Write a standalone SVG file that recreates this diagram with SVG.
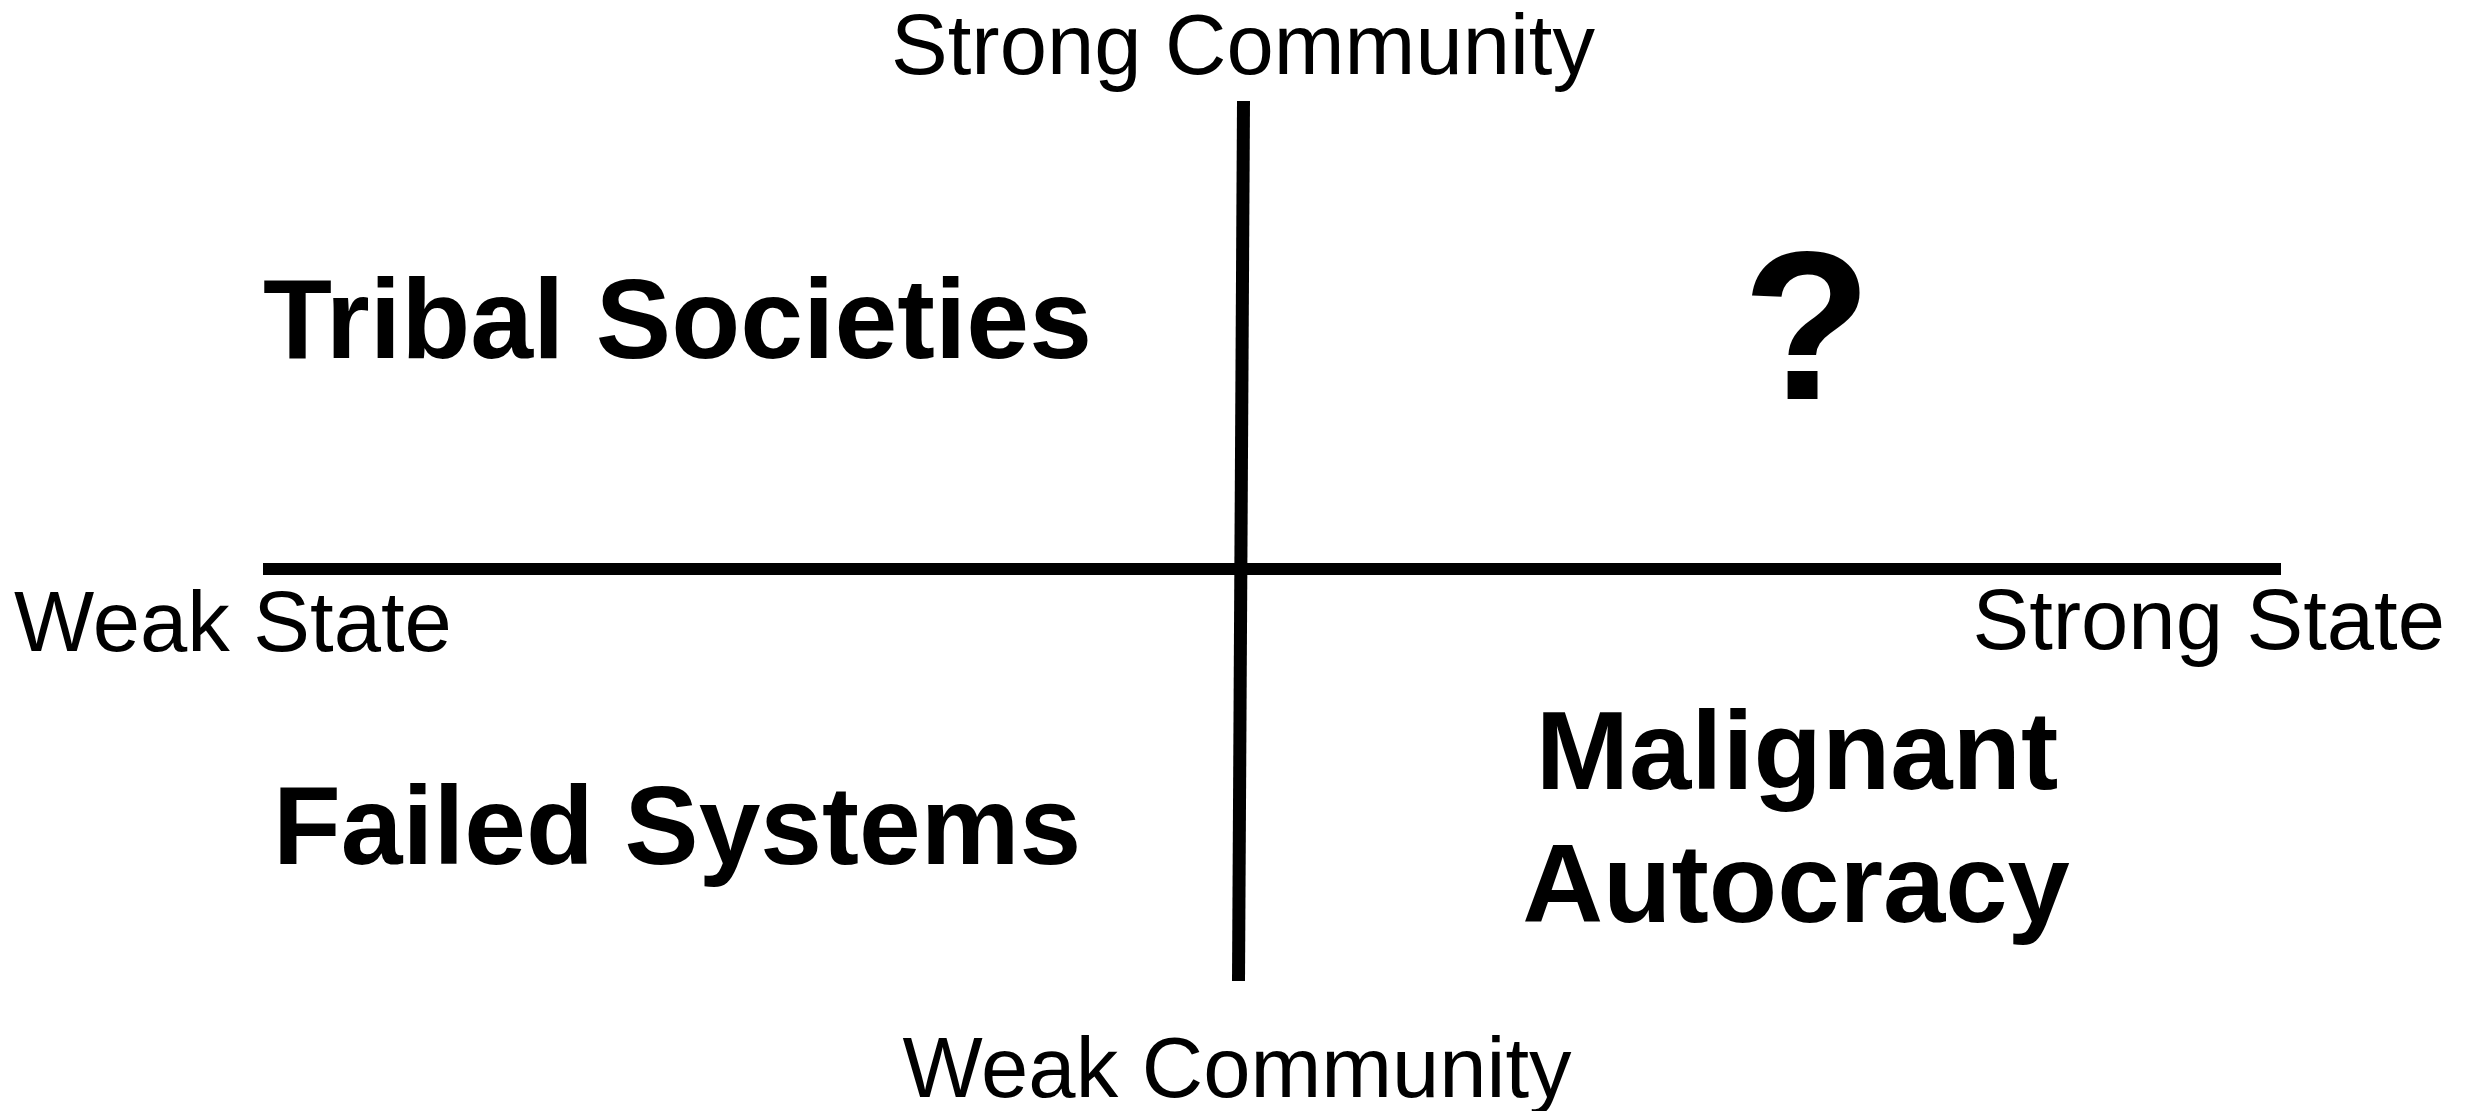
<svg xmlns="http://www.w3.org/2000/svg" width="2473" height="1111" viewBox="0 0 2473 1111">
<style>
.axis{font-family:"Liberation Sans",Arial,sans-serif;font-size:85px;fill:#000}
.quad{font-family:"Liberation Sans",Arial,sans-serif;font-size:112px;font-weight:bold;fill:#000}
.ln{stroke:#000;fill:none;stroke-linecap:butt}
</style>
<rect width="2473" height="1111" fill="#fff"/>
<g id="connectors">
<line class="ln" x1="1243.5" y1="101" x2="1238.5" y2="981" stroke-width="13"/>
<line class="ln" x1="263" y1="569" x2="2281" y2="569" stroke-width="12"/>
</g>
<g id="label-strong-community"><text class="axis" x="1243" y="74" text-anchor="middle">Strong Community</text></g>
<g id="label-weak-community"><text class="axis" x="1237" y="1097" text-anchor="middle">Weak Community</text></g>
<g id="label-weak-state"><text class="axis" x="14" y="651">Weak State</text></g>
<g id="label-strong-state"><text class="axis" x="2445" y="649" text-anchor="end">Strong State</text></g>
<g id="quad-tribal"><text class="quad" x="263" y="358" style="font-size:113px">Tribal Societies</text></g>
<g id="quad-failed"><text class="quad" x="273" y="864" style="font-size:111px">Failed Systems</text></g>
<g id="quad-malignant"><text class="quad" x="1797" y="789" text-anchor="middle">Malignant</text><text class="quad" x="1796" y="922" text-anchor="middle">Autocracy</text></g>
<g id="quad-question"><text class="quad" x="1807" y="399" text-anchor="middle" style="font-size:212px">?</text></g>
</svg>
